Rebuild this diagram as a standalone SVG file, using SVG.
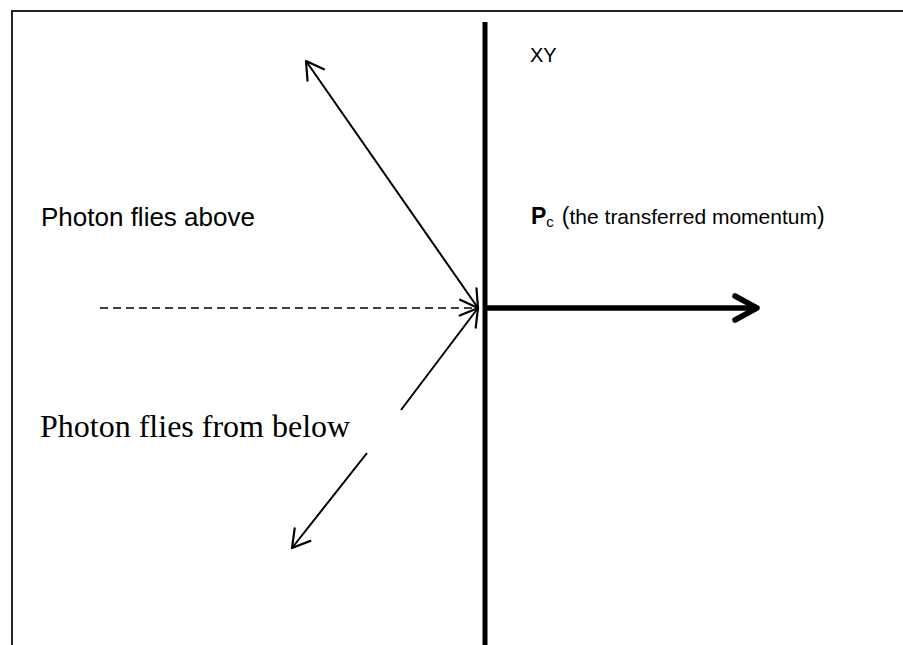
<svg xmlns="http://www.w3.org/2000/svg" width="903" height="645" viewBox="0 0 903 645">
<style>
.lbl{font-family:"Liberation Sans",Arial,sans-serif;fill:#000}
.serif{font-family:"Liberation Serif","Times New Roman",serif;fill:#000}
.thin{stroke:#000;stroke-width:2;fill:none}
</style>
<defs>
<marker id="open" markerUnits="userSpaceOnUse" markerWidth="40" markerHeight="40" refX="0" refY="0" orient="auto-start-reverse" overflow="visible" viewBox="-30 -20 40 40">
<path d="M-17,-10 L0,0 L-17,10" fill="none" stroke="#000" stroke-width="2.2" stroke-linecap="round" stroke-linejoin="round"/>
</marker>
<marker id="thick" markerUnits="userSpaceOnUse" markerWidth="40" markerHeight="40" refX="0" refY="0" orient="auto" overflow="visible" viewBox="-30 -20 40 40">
<path d="M-22,-12 L0,0 L-22,12" fill="none" stroke="#000" stroke-width="5.5" stroke-linecap="round" stroke-linejoin="round"/>
</marker>
</defs>
<rect width="903" height="645" fill="#fff"/>
<path id="frame" d="M12,645 V11 H903" fill="none" stroke="#222" stroke-width="2"/>
<g id="surface">
<line x1="485" y1="22" x2="485" y2="645" stroke="#000" stroke-width="5"/>
</g>
<g id="connectors">
<line x1="100" y1="308" x2="477" y2="308" stroke="#000" stroke-width="1.5" stroke-dasharray="8,5"/>
<line class="thin" x1="478" y1="308" x2="306" y2="61" marker-start="url(#open)" marker-end="url(#open)"/>
<path class="thin" d="M478,308 L401,410 M367,453 L292,548" marker-start="url(#open)" marker-end="url(#open)"/>
<line x1="487" y1="308" x2="757" y2="308" stroke="#000" stroke-width="5.5" marker-end="url(#thick)"/>
</g>
<g id="label-above">
<text class="lbl" x="41" y="226" font-size="26">Photon flies above</text>
</g>
<g id="label-below">
<text class="serif" x="40" y="437" font-size="32">Photon flies from below</text>
</g>
<g id="label-xy">
<text class="lbl" x="530" y="62" font-size="20">XY</text>
</g>
<g id="label-pc">
<text class="lbl" x="531" y="224" font-size="23"><tspan font-weight="bold">P</tspan><tspan font-size="15" dy="3">c</tspan><tspan dy="-3" dx="8">(</tspan><tspan font-size="21">the transferred momentum</tspan><tspan>)</tspan></text>
</g>
</svg>
